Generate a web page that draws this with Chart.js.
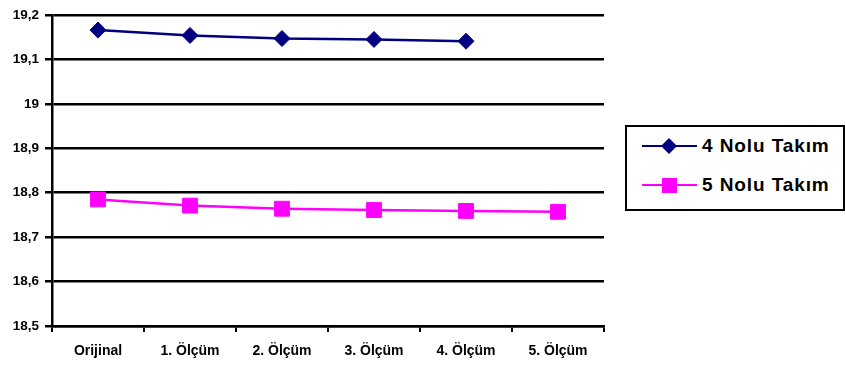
<!DOCTYPE html>
<html>
<head>
<meta charset="utf-8">
<script src="https://cdn.jsdelivr.net/npm/chart.js@4/dist/chart.umd.min.js"></script>
<style>
  html, body { margin:0; padding:0; background:#fff; }
  #wrap { position:relative; width:845px; height:367px; }
  #legend {
    position:absolute; left:625px; top:125px; width:216px; height:82px;
    border:2px solid #000; background:#fff;
    font-family:"Liberation Sans", Arial, sans-serif; font-weight:bold; font-size:19px;
    letter-spacing:0.9px; color:#000;
  }
  .item { position:absolute; left:15px; height:24px; display:flex; align-items:center; }
  .item svg { margin-right:5px; }
</style>
</head>
<body>
<div id="wrap">
  <canvas id="chart" width="845" height="367"></canvas>
  <div id="legend"></div>
</div>
<script>
// === Chart data ===
const labels = ['Orijinal', '1. Ölçüm', '2. Ölçüm', '3. Ölçüm', '4. Ölçüm', '5. Ölçüm'];
const takim4 = [19.166, 19.154, 19.147, 19.145, 19.141, null];
const takim5 = [18.785, 18.771, 18.764, 18.761, 18.759, 18.757];
const seriesNames = ['4 Nolu Takım', '5 Nolu Takım'];
const yTicks = [18.5, 18.6, 18.7, 18.8, 18.9, 19, 19.1, 19.2];

const NAVY = '#000080', PINK = '#FF00FF';
const FONT = '"Liberation Sans", Arial, sans-serif';

// legend (html, line + marker samples)
const marks = {
  rectRot: c => `<polygon points="27,4 35,12 27,20 19,12" fill="${c}"/>`,
  rect:    c => `<rect x="20" y="5" width="15" height="15" fill="${c}"/>`
};
document.getElementById('legend').innerHTML = [
  [seriesNames[0], NAVY, 'rectRot', 7],
  [seriesNames[1], PINK, 'rect', 46]
].map(([name, c, m, top]) => `<div class="item" style="top:${top}px">
  <svg width="55" height="24"><line x1="0" y1="12" x2="55" y2="12" stroke="${c}" stroke-width="2"/>${marks[m](c)}</svg>
  <span>${name}</span></div>`).join('');

new Chart(document.getElementById('chart'), {
  type: 'line',
  data: {
    labels: labels,
    datasets: [
      {label: seriesNames[0], data: takim4, borderColor: NAVY, backgroundColor: NAVY, borderWidth: 2.5,
       pointStyle: 'rectRot', pointRadius: 8, pointBorderWidth: 1, tension: 0},
      {label: seriesNames[1], data: takim5, borderColor: PINK, backgroundColor: PINK, borderWidth: 2.5,
       pointStyle: 'rect', pointRadius: 10.5, pointBorderWidth: 1, tension: 0}
    ]
  },
  options: {
    responsive: false, animation: false,
    layout: {padding: {top: 15, right: 241, left: 0, bottom: 0}},
    plugins: {legend: {display: false}, tooltip: {enabled: false}},
    scales: {
      x: {
        offset: true,
        grid: {offset: true, drawOnChartArea: false, drawTicks: true, tickLength: 6, color: '#000', lineWidth: 2},
        border: {display: true, color: '#000', width: 2.5},
        ticks: {color: '#000', padding: 11, font: {family: FONT, size: 14, weight: 'bold'}, maxRotation: 0},
        afterFit: s => { s.height = 41; }
      },
      y: {
        min: 18.5, max: 19.2,
        afterBuildTicks: s => { s.ticks = yTicks.map(v => ({value: v})); },
        grid: {color: '#000', lineWidth: 2.5, drawTicks: true, tickLength: 7},
        border: {display: true, color: '#000', width: 2.5},
        ticks: {color: '#000', padding: 6, font: {family: FONT, size: 13.5, weight: 'bold'},
                callback: v => String(Math.round(v * 10) / 10).replace('.', ',')},
        afterFit: s => { s.width = 52; }
      }
    }
  }
});
</script>
</body>
</html>
